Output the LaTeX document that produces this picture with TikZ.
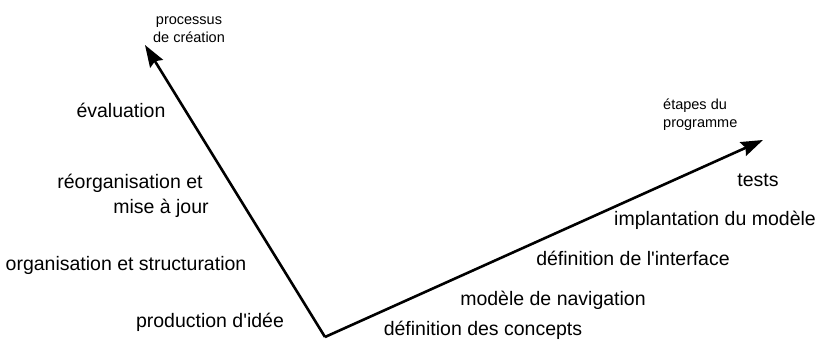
\documentclass[tikz,border=0pt]{standalone}
\usepackage{fontspec}
\setmainfont{Liberation Sans}
\usetikzlibrary{arrows.meta}
\begin{document}
\begin{tikzpicture}[x=1bp,y=1bp,
  axis/.style={line width=2.6bp,-{Stealth[length=22bp,width=15bp,inset=3bp]}},
  lbl/.style={inner sep=0pt,font=\fontsize{19.5bp}{23bp}\selectfont},
  small/.style={inner sep=0pt,font=\fontsize{14.5bp}{18bp}\selectfont}]
\useasboundingbox (0,0) rectangle (819,340);
\coordinate (O) at (325,3);
\coordinate (Y) at (145,295);
\coordinate (X) at (763,200);
\draw[axis] (O) -- (Y);
\draw[axis] (O) -- (X);
\node[small,align=center] (ytitle) at (189,310) {processus\\de création};
\node[small,align=left,anchor=west] (xtitle) at (663,225) {étapes du\\programme};
\node[lbl] (a1) at (121,230) {évaluation};
\node[lbl] (a2) at (130,157) {réorganisation et};
\node[lbl] (a3) at (161,132) {mise à jour};
\node[lbl] (a4) at (126,75) {organisation et structuration};
\node[lbl] (a5) at (210,18) {production d\textquotesingle idée};
\node[lbl] (b1) at (758,160) {tests};
\node[lbl] (b2) at (715,120) {implantation du modèle};
\node[lbl] (b3) at (633,82) {définition de l\textquotesingle interface};
\node[lbl] (b4) at (553,40) {modèle de navigation};
\node[lbl] (b5) at (483,10) {définition des concepts};
\end{tikzpicture}
\end{document}
